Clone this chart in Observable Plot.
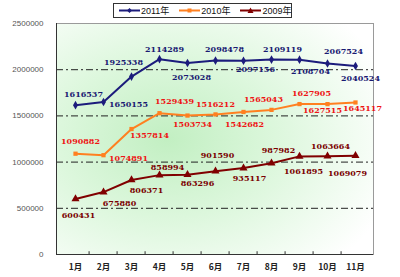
<!DOCTYPE html>
<html><head><meta charset="utf-8">
<script src="https://cdn.jsdelivr.net/npm/d3@7"></script>
<script src="https://cdn.jsdelivr.net/npm/@observablehq/plot@0.6"></script>
<style>
body{margin:0;background:#fff;}
#wrap{position:relative;width:400px;height:277px;overflow:hidden;background:#fff;}
#legend{position:absolute;left:113px;top:3px;width:177px;height:13px;border:1px solid #333;background:#fff;display:flex;align-items:center;font:9px "Liberation Sans","Noto Sans CJK SC",sans-serif;color:#111;white-space:nowrap;box-sizing:content-box;}
.item{display:flex;align-items:center;margin-left:5px;flex-shrink:0;white-space:nowrap;}
.item svg{display:block;margin-right:1px;flex-shrink:0;}
</style>
</head><body>
<div id="wrap"><div id="legend"></div></div>
<script>
const months = ["1月","2月","3月","4月","5月","6月","7月","8月","9月","10月","11月"];
const v2011 = [1616537,1650155,1925338,2114289,2073028,2098478,2097156,2109119,2108704,2067524,2040524];
const v2010 = [1090882,1074891,1357814,1529439,1503734,1516212,1542682,1565043,1627905,1627515,1645117];
const v2009 = [600431,675880,806371,858994,863296,901590,935117,987982,1061895,1063664,1069079];
const seriesNames = ["2011年","2010年","2009年"];
const yTicks = [0,500000,1000000,1500000,2000000,2500000];
const gridValues = [500000,1000000,1500000,2000000];

// label nudges (layout only)
const nudge2011 = [[8,-11],[25,2],[-8,-14],[5,-10],[4,14],[9,-11],[12,9],[11,-10],[11,12],[16,-12],[5,12]];
const nudge2010 = [[5,-12],[25,3],[18,6],[15,-12],[5,9],[0,-10],[1,12],[-8,-10],[12,-11],[-5,6],[7,6]];
const nudge2009 = [[3,16],[16,11],[15,10],[8,-8],[10,9],[2,-16],[6,10],[7,-13],[4,15],[3,-10],[-8,18]];

const W = 400, H = 277;
const M = {top: 23, right: 27, bottom: 23, left: 56};
const bw = (W - M.left - M.right) / months.length;

const series = [
  {name: seriesNames[0], values: v2011, nudge: nudge2011, line: "#1c1c7c", label: "#1a1a72", symbol: "diamond", r: 2.6},
  {name: seriesNames[1], values: v2010, nudge: nudge2010, line: "#ff8020", label: "#ee1515", symbol: "square", r: 2.4},
  {name: seriesNames[2], values: v2009, nudge: nudge2009, line: "#800000", label: "#7a0000", symbol: "triangle", r: 3}
];

const marks = [
  Plot.frame({fill: "url(#bggrad)", stroke: "#9a9a9a"}),
  Plot.ruleY(gridValues, {stroke: "#222", strokeDasharray: "7,3,2,3", strokeWidth: 1}),
  Plot.ruleY([0], {stroke: "#333"}),
  Plot.frame({anchor: "left", stroke: "#333"}),
  Plot.ruleX(months.slice(1), {x: d => d, dx: -bw/2, y1: 0, y2: 30000, stroke: "#333"}),
  Plot.axisY({ticks: yTicks, tickSize: 0, tickPadding: 13, tickFormat: d => String(d), label: null, fontSize: 8, fontFamily: "Liberation Sans", fill: "#555"}),
  Plot.axisX({tickSize: 0, tickPadding: 9, label: null, fontSize: 8.5, fontWeight: "bold", fontFamily: "Noto Sans CJK SC", fill: "#222"})
];

for (const s of series) {
  const data = months.map((m, i) => ({m, v: s.values[i]}));
  marks.push(Plot.line(data, {x: "m", y: "v", stroke: s.line, strokeWidth: 2}));
  marks.push(Plot.dot(data, {x: "m", y: "v", symbol: s.symbol, r: s.r, fill: s.line, stroke: "none"}));
}
for (const s of series) {
  months.forEach((m, i) => {
    marks.push(Plot.text([{m, v: s.values[i]}], {
      x: "m", y: "v", text: d => String(d.v),
      dx: s.nudge[i][0], dy: s.nudge[i][1],
      fill: s.label, fontSize: 8, fontWeight: "bold", fontFamily: "DejaVu Serif"
    }));
  });
}

const chart = Plot.plot({
  width: W, height: H,
  marginTop: M.top, marginRight: M.right, marginBottom: M.bottom, marginLeft: M.left,
  x: {type: "band", domain: months, padding: 0, label: null},
  y: {domain: [0, 2500000], label: null},
  style: {background: "transparent"},
  marks
});

const ns = "http://www.w3.org/2000/svg";
const defs = document.createElementNS(ns, "defs");
defs.innerHTML = `<radialGradient id="bggrad" cx="0.35" cy="0.5" r="0.75">
  <stop offset="0" stop-color="#c2efc2"/>
  <stop offset="0.45" stop-color="#dcf7dc"/>
  <stop offset="1" stop-color="#ffffff"/>
</radialGradient>`;
chart.insertBefore(defs, chart.firstChild);

const wrap = document.getElementById("wrap");
wrap.insertBefore(chart, wrap.firstChild);

// legend
const legend = document.getElementById("legend");
const symPath = {
  diamond: "M10.5,1 L13,3.5 L10.5,6 L8,3.5 Z",
  square: "M8.5,1.5 h4 v4 h-4 Z",
  triangle: "M10.5,0.5 L13.5,6 L7.5,6 Z"
};
series.forEach((s, i) => {
  const it = document.createElement("div");
  it.className = "item";
  if (i > 0) it.style.marginLeft = "10px";
  it.innerHTML = `<svg width="21" height="7" viewBox="0 0 21 7"><line x1="0" y1="3.5" x2="21" y2="3.5" stroke="${s.line}" stroke-width="2"/><path d="${symPath[s.symbol]}" fill="${s.line}"/></svg><span>${s.name}</span>`;
  legend.appendChild(it);
});
</script>
</body></html>
